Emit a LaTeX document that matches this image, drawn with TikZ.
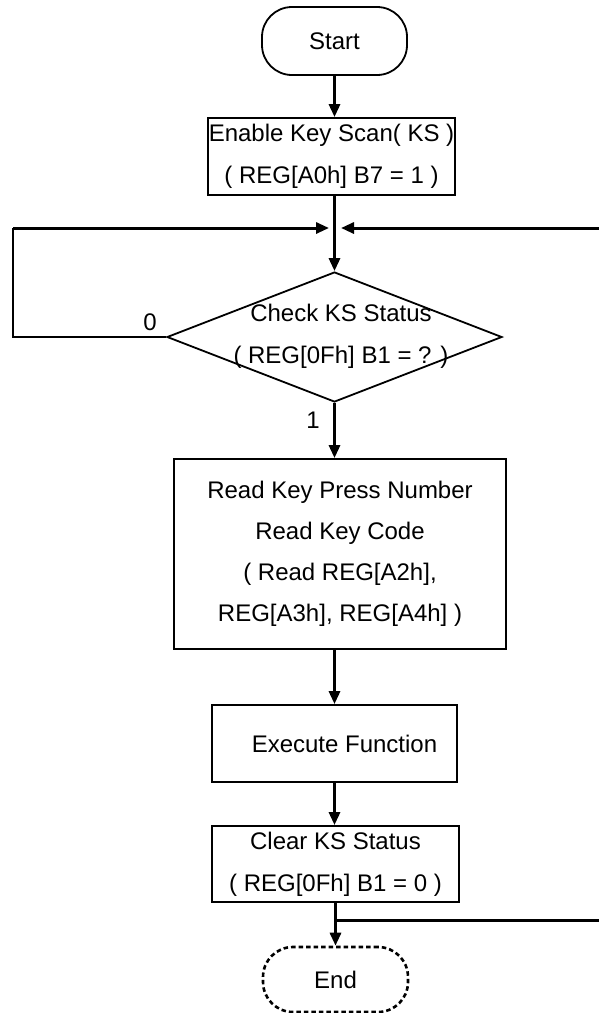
\documentclass[tikz,border=0pt]{standalone}
\usepackage{fontspec}
\setmainfont{Liberation Sans}
\usetikzlibrary{shapes.geometric,arrows.meta,calc}
\begin{document}
\begin{tikzpicture}[x=1pt,y=-1pt,
  txt/.style={font=\fontsize{24}{42}\selectfont,align=center,inner sep=0pt},
  box/.style={txt,draw,line width=1.8pt},
  term/.style={box,rounded corners=30pt},
  flow/.style={line width=3pt,-{Triangle[length=13pt,width=11pt]}},
  thick3/.style={line width=3pt},
  thinln/.style={line width=1.8pt}]
\useasboundingbox (0,0) rectangle (599,1013);
\clip (0,0) rectangle (599,1013);

\node[term,minimum width=145pt,minimum height=68pt] (start) at (334.5,41) {Start};
\node[box,minimum width=247pt,minimum height=77pt] (enable) at (331.5,156.5) {Enable Key Scan( KS )\\( REG[A0h] B7 = 1 )};
\node[draw,diamond,line width=1.8pt,minimum width=335pt,minimum height=130pt,inner sep=0pt] (check) at (334.5,337) {};
\node[txt] (checktxt) at (341,336) {Check KS Status\\( REG[0Fh] B1 = ? )};
\node[box,font=\fontsize{24}{41}\selectfont,minimum width=332pt,minimum height=190pt] (read) at (340,554) {Read Key Press Number\\Read Key Code\\( Read REG[A2h],\\REG[A3h], REG[A4h] )};
\node[box,minimum width=245pt,minimum height=77pt] (exec) at (334.5,743.5) {\hspace*{20pt}Execute Function};
\node[box,minimum width=247pt,minimum height=76pt] (clear) at (335.5,864) {Clear KS Status\\( REG[0Fh] B1 = 0 )};
\node[term,dash pattern=on 4.5pt off 3pt,line width=2.6pt,minimum width=145pt,minimum height=65pt] (end) at (335.5,979.5) {End};

\node[txt] (l0) at (150,322) {0};
\node[txt] (l1) at (313,420) {1};

\coordinate (jl) at (329,228);
\coordinate (jr) at (341,228);
\coordinate (ll) at (13,337);
\coordinate (lt) at (13,228);
\coordinate (rb) at (335.5,920);
\coordinate (rc) at (620,920);
\coordinate (rt) at (620,228);

\draw[flow] (start.south) -- (start.south |- enable.north);
\draw[flow] (enable.south -| start.south) -- (check.north);
\draw[flow] (check.south) -- (check.south |- read.north);
\draw[flow] (check.south |- read.south) -- (check.south |- exec.north);
\draw[flow] (exec.south) -- (exec.south |- clear.north);
\draw[flow] (clear.south) -- (end.north);

\draw[thinln] (check.west) -- (ll) -- (lt);
\draw[flow] (lt) -- (jl);
\draw[thick3] (rb) -- (rc) -- (rt);
\draw[flow] (rt) -- (jr);
\end{tikzpicture}
\end{document}
